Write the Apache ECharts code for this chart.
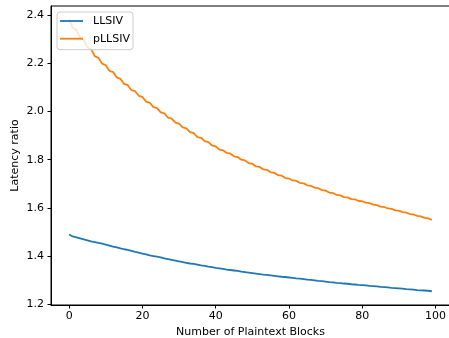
<!DOCTYPE html>
<html>
<head>
<meta charset="utf-8">
<script src="https://cdn.jsdelivr.net/npm/echarts@6/dist/echarts.min.js"></script>
<style>
html,body{margin:0;padding:0;background:#fff;}
#chart{width:449px;height:338px;}
</style>
</head>
<body>
<div id="chart"></div>
<script>
var xValues = [];
for (var i = 0; i < 100; i++) xValues.push(i);

var llsiv = [
1.490,1.482,1.478,1.474,1.470,1.466,1.462,1.459,1.455,1.452,
1.448,1.444,1.440,1.437,1.433,1.429,1.426,1.422,1.418,1.415,
1.411,1.408,1.404,1.401,1.398,1.395,1.391,1.388,1.385,1.382,
1.379,1.376,1.373,1.370,1.368,1.365,1.362,1.360,1.357,1.355,
1.352,1.350,1.348,1.345,1.343,1.341,1.339,1.336,1.334,1.332,
1.330,1.328,1.326,1.324,1.323,1.321,1.319,1.317,1.315,1.314,
1.312,1.310,1.308,1.307,1.305,1.303,1.302,1.300,1.298,1.297,
1.295,1.293,1.292,1.290,1.289,1.287,1.286,1.284,1.283,1.281,
1.280,1.279,1.277,1.276,1.275,1.273,1.272,1.271,1.269,1.268,
1.267,1.266,1.264,1.263,1.262,1.260,1.259,1.258,1.257,1.255
];

var pllsiv = [
2.381,2.346,2.338,2.305,2.297,2.265,2.258,2.229,2.222,2.198,
2.192,2.168,2.163,2.141,2.135,2.114,2.109,2.088,2.084,2.065,
2.060,2.041,2.036,2.018,2.014,1.996,1.992,1.974,1.970,1.954,
1.950,1.934,1.930,1.914,1.910,1.894,1.891,1.877,1.873,1.859,
1.855,1.842,1.839,1.828,1.825,1.814,1.811,1.800,1.797,1.786,
1.783,1.772,1.770,1.760,1.758,1.748,1.746,1.736,1.734,1.724,
1.722,1.714,1.712,1.704,1.702,1.694,1.692,1.684,1.682,1.674,
1.672,1.664,1.662,1.654,1.652,1.645,1.644,1.637,1.636,1.629,
1.628,1.622,1.620,1.614,1.612,1.606,1.604,1.598,1.596,1.590,
1.589,1.583,1.581,1.575,1.573,1.567,1.565,1.559,1.557,1.551
];

var xTicks = [0, 20, 40, 60, 80, 100];
var yTicks = [1.2, 1.4, 1.6, 1.8, 2.0, 2.2, 2.4];
var seriesNames = ['LLSIV', 'pLLSIV'];

function pairs(ys) {
  return xValues.map(function (x, i) { return [x, ys[i]]; });
}

var font = 'DejaVu Sans';
var fs = 11;
var lineIcon = 'path://M0,0 L23,0 L23,1.8 L0,1.8 Z';
var chart = echarts.init(document.getElementById('chart'), null, {renderer: 'canvas'});
chart.setOption({
  animation: false,
  backgroundColor: '#fff',
  textStyle: {fontFamily: font},
  grid: {left: 51, top: 6, width: 399, height: 299, show: true, borderColor: '#000', borderWidth: 1,
         backgroundColor: 'transparent', outerBoundsMode: 'none', containLabel: false},
  legend: {
    left: 57, top: 12, orient: 'vertical',
    itemWidth: 23, itemHeight: 10, itemGap: 6.7,
    padding: [3.5, 3, 5.5, 3],
    symbolKeepAspect: true,
    backgroundColor: 'rgba(255,255,255,0.8)',
    borderColor: '#cccccc', borderWidth: 1, borderRadius: 3,
    textStyle: {fontFamily: font, fontSize: fs, color: '#000', padding: [0, 0, 0, 5]},
    data: [
      {name: seriesNames[0], icon: lineIcon},
      {name: seriesNames[1], icon: lineIcon}
    ]
  },
  xAxis: {
    type: 'value', min: -4.95, max: 103.95,
    name: 'Number of Plaintext Blocks', nameLocation: 'middle', nameGap: 22,
    nameMoveOverlap: false,
    nameTextStyle: {fontFamily: font, fontSize: fs, color: '#000'},
    splitLine: {show: false},
    axisLine: {show: true, onZero: false, lineStyle: {color: '#000', width: 1}},
    axisTick: {show: true, length: 3.5, lineStyle: {color: '#000', width: 1}, customValues: xTicks},
    axisLabel: {fontFamily: font, fontSize: fs, color: '#000', margin: 6, customValues: xTicks,
      formatter: function (v) { return String(Math.round(v)); }}
  },
  yAxis: {
    type: 'value', min: 1.198, max: 2.437,
    name: 'Latency ratio', nameLocation: 'middle', nameGap: 30.5, nameRotate: 90,
    nameMoveOverlap: false,
    nameTextStyle: {fontFamily: font, fontSize: fs, color: '#000'},
    splitLine: {show: false},
    axisLine: {show: true, onZero: false, lineStyle: {color: '#000', width: 1}},
    axisTick: {show: true, length: 3.5, lineStyle: {color: '#000', width: 1}, customValues: yTicks},
    axisLabel: {fontFamily: font, fontSize: fs, color: '#000', margin: 7, customValues: yTicks,
      formatter: function (v) { return v.toFixed(1); }}
  },
  series: [
    {name: seriesNames[0], type: 'line', data: pairs(llsiv), symbol: 'none', showSymbol: false,
     lineStyle: {color: '#1f77b4', width: 1.8}, itemStyle: {color: '#1f77b4'}, z: 2},
    {name: seriesNames[1], type: 'line', data: pairs(pllsiv), symbol: 'none', showSymbol: false,
     lineStyle: {color: '#ff7f0e', width: 1.8}, itemStyle: {color: '#ff7f0e'}, z: 3}
  ]
});
</script>
</body>
</html>
